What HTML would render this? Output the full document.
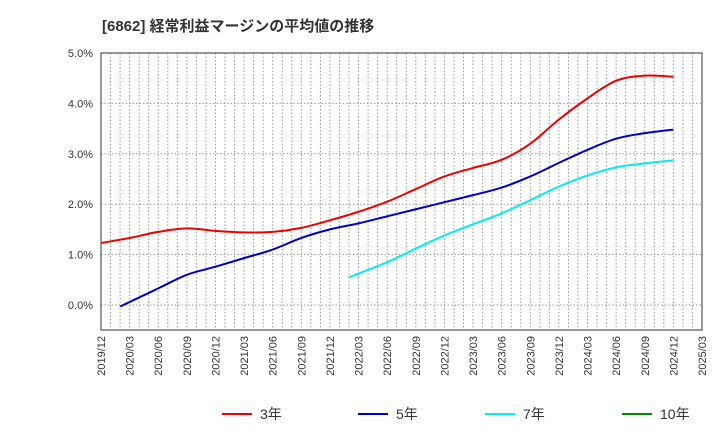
<!DOCTYPE html>
<html><head><meta charset="utf-8"><style>
body{margin:0;background:#fff;font-family:"Liberation Sans","Noto Sans CJK JP",sans-serif}
</style></head><body>
<svg id="c" width="720" height="440" xmlns="http://www.w3.org/2000/svg" style="font-family:'Liberation Sans','Noto Sans CJK JP',sans-serif">
<text x="102" y="31" font-size="15" font-weight="bold" fill="#333">[6862]  経常利益マージンの平均値の推移</text>
<g id="grid"></g><g id="axes"></g><g id="series"></g><g id="legend"></g>
</svg>
<script>
const xLabels=["2019/12","2020/03","2020/06","2020/09","2020/12","2021/03","2021/06","2021/09","2021/12","2022/03","2022/06","2022/09","2022/12","2023/03","2023/06","2023/09","2023/12","2024/03","2024/06","2024/09","2024/12","2025/03"];
const yTicks=[0,1,2,3,4,5];
const s3=[1.23,1.33,1.45,1.52,1.47,1.44,1.45,1.53,1.68,1.85,2.05,2.3,2.55,2.72,2.88,3.2,3.68,4.1,4.45,4.55,4.53];
const s5=[null,-0.03,0.33,0.6,0.76,0.93,1.1,1.33,1.5,1.62,1.76,1.9,2.04,2.18,2.33,2.55,2.82,3.08,3.3,3.41,3.48];
const s7=[null,null,null,null,null,null,null,null,null,0.55,0.85,1.12,1.38,1.6,1.82,2.08,2.35,2.57,2.73,2.81,2.87];
const s10=[];
const names=["3年","5年","7年","10年"];
const colors=["#e00","#00c","#0ee","#080"];
const L=101,R=702,T=53,B=330;
const X=i=>L+(R-L)*i/21;
const Y=v=>305-v*50.4;
const NS="http://www.w3.org/2000/svg";
function mk(t,a,p){const e=document.createElementNS(NS,t);for(const k in a)e.setAttribute(k,a[k]);p.appendChild(e);return e;}
const g=document.getElementById('grid'),ax=document.getElementById('axes'),se=document.getElementById('series'),lg=document.getElementById('legend');
for(let m=1;m<63;m++){const x=L+(R-L)*m/63;const l=mk('line',{x1:x,x2:x,y1:T,y2:B,stroke:'#999','stroke-dasharray':'1.5,2','stroke-width':1},g);}
yTicks.forEach(v=>{const l=mk('line',{x1:L,x2:R,y1:Y(v),y2:Y(v),stroke:'#999','stroke-dasharray':'1.5,2'},g);
const t=mk('text',{x:L-8,y:Y(v)+4,'text-anchor':'end','font-size':11,fill:'#333'},ax);t.textContent=v.toFixed(1)+'%';});
const fr=mk('rect',{x:L,y:T,width:R-L,height:B-T,fill:'none',stroke:'#333'},ax);
xLabels.forEach((s,i)=>{const x=X(i),y=B+6;const t=mk('text',{x:x+4,y:y,'text-anchor':'end','font-size':11,fill:'#333',transform:`rotate(-90 ${x+4} ${y})`},ax);t.textContent=s;});
function path(arr){const p=[];let first=true;arr.forEach((v,i)=>{if(v!=null){const xi=(first&&i>0)?i-0.33:i;first=false;p.push([X(xi),Y(v)]);}});if(p.length<2)return '';let d=`M${p[0][0]},${p[0][1]}`;
for(let i=0;i<p.length-1;i++){const p0=p[i-1]||p[i],p1=p[i],p2=p[i+1],p3=p[i+2]||p2;
d+=` C${p1[0]+(p2[0]-p0[0])/6},${p1[1]+(p2[1]-p0[1])/6} ${p2[0]-(p3[0]-p1[0])/6},${p2[1]-(p3[1]-p1[1])/6} ${p2[0]},${p2[1]}`;}return d;}
[s3,s5,s7,s10].forEach((s,k)=>{const d=path(s);if(d){const e=mk('path',{d:d,fill:'none',stroke:colors[k],'stroke-width':2},se);}});
const lx=[222,358,485,622];
names.forEach((n,k)=>{const l=mk('line',{x1:lx[k],x2:lx[k]+30,y1:414,y2:414,stroke:colors[k],'stroke-width':2},lg);
const t=mk('text',{x:lx[k]+38,y:419,'font-size':14,fill:'#333'},lg);t.textContent=n;});
</script>
</body></html>
